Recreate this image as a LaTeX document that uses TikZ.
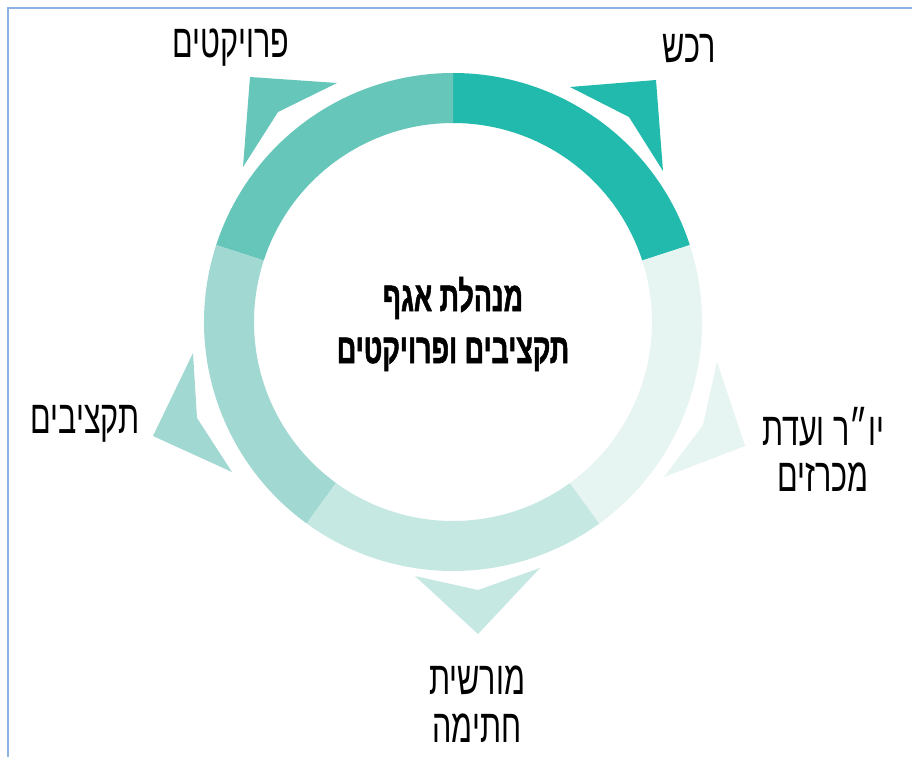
\documentclass[tikz,border=0pt]{standalone}
\usepackage{fontspec}
\TeXXeTstate=1
\newfontfamily\heb[Script=Hebrew,FakeStretch=0.65]{Liberation Sans}
\newfontfamily\hebb[Script=Hebrew,FakeStretch=0.64,FakeBold=1.2]{Liberation Sans Bold}
\definecolor{cA}{HTML}{22BAAC}
\definecolor{cB}{HTML}{66C6BA}
\definecolor{cC}{HTML}{A2D8D2}
\definecolor{cD}{HTML}{C6E8E3}
\definecolor{cE}{HTML}{E6F4F2}
\definecolor{frame}{HTML}{8DB3E2}
\tikzset{
  lbl/.style={inner sep=0pt, align=center, font=\heb\fontsize{47}{47}\selectfont},
  ctr/.style={inner sep=0pt, align=center, font=\hebb\fontsize{42}{52}\selectfont},
}
\newcommand{\ringseg}[3]{%
  \fill[#3] ($(O)+(-#1:249)$) arc[start angle=-#1, end angle=-#2, radius=249]
    -- ($(O)+(-#2:199)$) arc[start angle=-#2, end angle=-#1, radius=199] -- cycle;}
\usetikzlibrary{calc}
\begin{document}
\begin{tikzpicture}[x=1pt,y=-1pt]
\useasboundingbox (0,0) rectangle (912,757);
\fill[white] (0,0) rectangle (912,757);
\draw[frame, line width=2.6] (8,757) -- (8,8) -- (912,8);
\coordinate (O) at (453,322);
% ring
\ringseg{18}{90}{cA}
\ringseg{90}{162}{cB}
\ringseg{162}{234}{cC}
\ringseg{234}{306}{cD}
\ringseg{306}{378}{cE}
% arrow heads
\fill[cA] (570,87) -- (656,80) -- (663,171) -- (629,117) -- cycle;
\fill[cB] (337,83) -- (250,77) -- (243,167) -- (278,112) -- cycle;
\fill[cC] (193,353) -- (153,436) -- (232,472) -- (197,418) -- cycle;
\fill[cD] (540,568) -- (478,634) -- (415,576) -- (478,590) -- cycle;
\fill[cE] (717,362) -- (745,446) -- (664,477) -- (703,425) -- cycle;
% labels
\node[lbl] (rekhesh) at (689,49) {\beginR רכש\endR};
\node[lbl] (proyektim) at (231,48) {\beginR פרויקטים\endR};
\node[lbl] (yor) at (823,449) {\beginR יו״ר ועדת\endR\\[-1pt]\beginR מכרזים\endR};
\node[lbl] (mursh) at (477,704) {\beginR מורשית\endR\\[1pt]\beginR חתימה\endR};
\node[lbl] (taktz) at (85,424) {\beginR תקציבים\endR};
\node[ctr] (ctext) at (453,324) {\beginR מנהלת אגף\endR\\\beginR תקציבים ופרויקטים\endR};
\end{tikzpicture}
\end{document}
